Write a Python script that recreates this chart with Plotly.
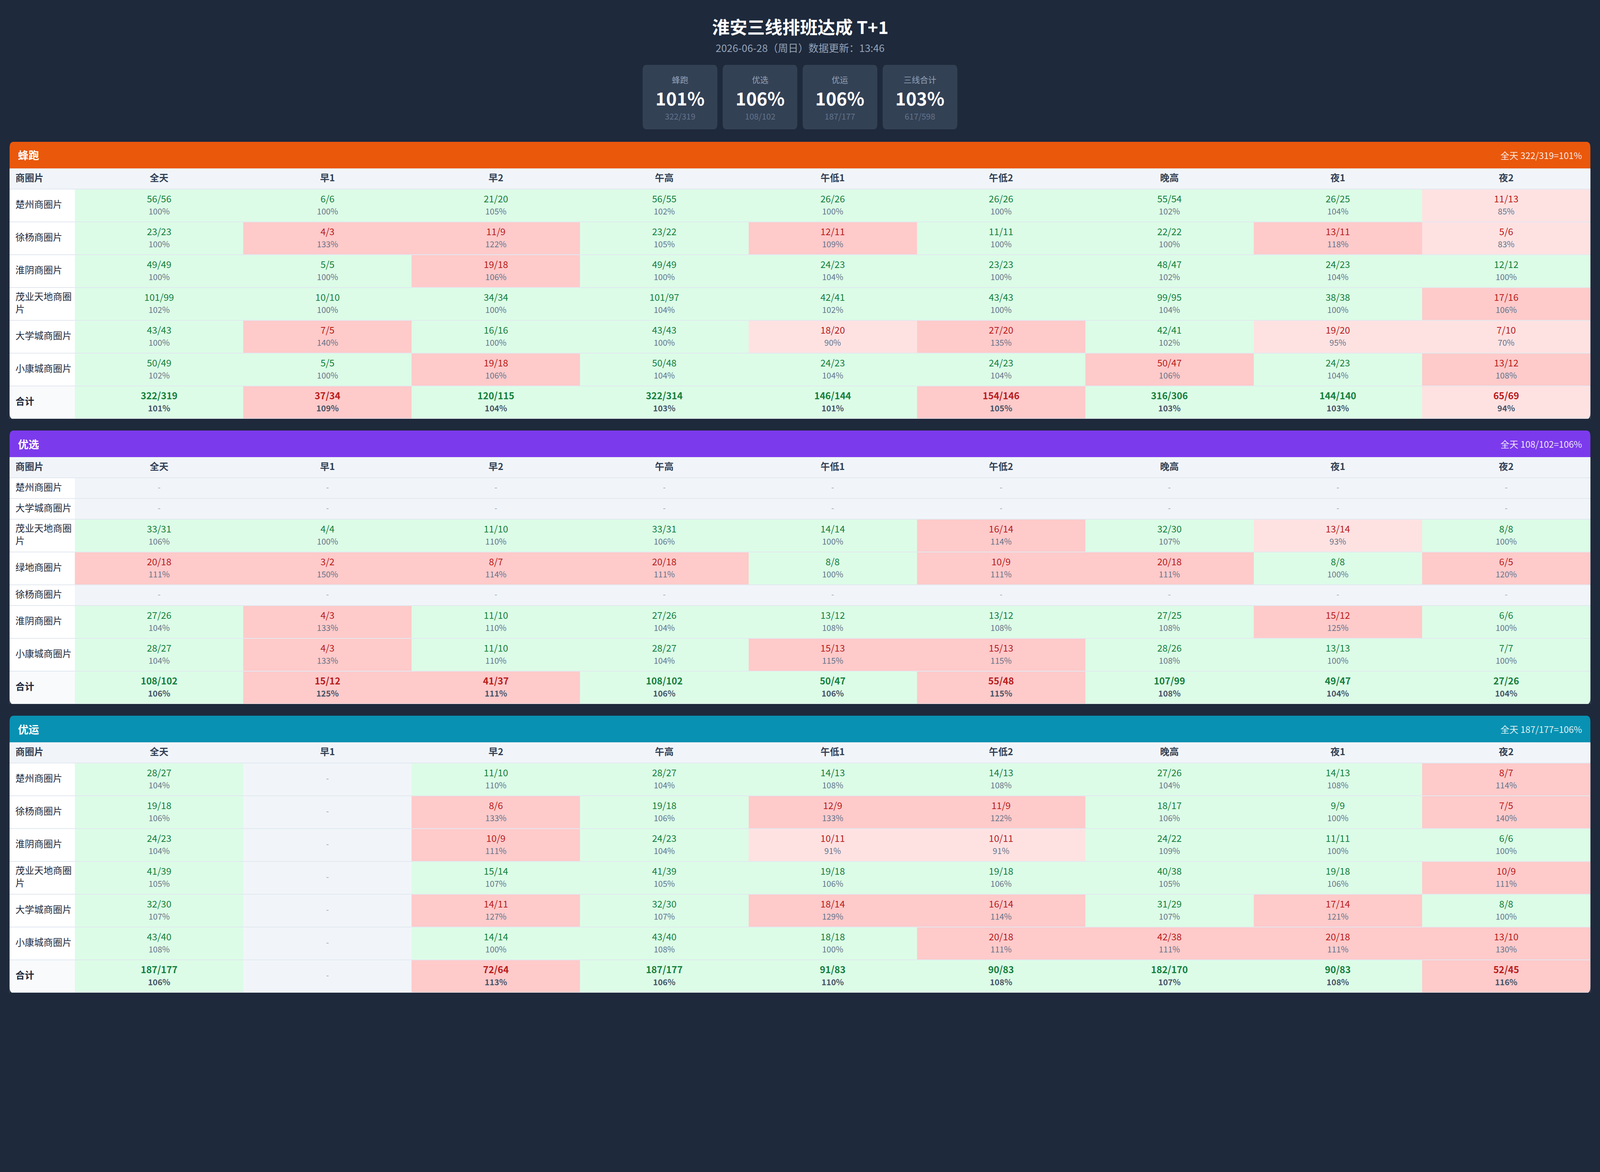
import plotly.graph_objects as go

# ---- data -------------------------------------------------------------
COLUMNS = ["全天", "早1", "早2", "午高", "午低1", "午低2", "晚高", "夜1", "夜2"]

FP_ROWS = ["楚州商圈片", "徐杨商圈片", "淮阴商圈片", "茂业天地商圈片", "大学城商圈片", "小康城商圈片"]
FP_DONE = [
    [56, 6, 21, 56, 26, 26, 55, 26, 11],
    [23, 4, 11, 23, 12, 11, 22, 13, 5],
    [49, 5, 19, 49, 24, 23, 48, 24, 12],
    [101, 10, 34, 101, 42, 43, 99, 38, 17],
    [43, 7, 16, 43, 18, 27, 42, 19, 7],
    [50, 5, 19, 50, 24, 24, 50, 24, 13],
]
FP_PLAN = [
    [56, 6, 20, 55, 26, 26, 54, 25, 13],
    [23, 3, 9, 22, 11, 11, 22, 11, 6],
    [49, 5, 18, 49, 23, 23, 47, 23, 12],
    [99, 10, 34, 97, 41, 43, 95, 38, 16],
    [43, 5, 16, 43, 20, 20, 41, 20, 10],
    [49, 5, 18, 48, 23, 23, 47, 23, 12],
]
FP_TOTAL_DONE = [322, 37, 120, 322, 146, 154, 316, 144, 65]
FP_TOTAL_PLAN = [319, 34, 115, 314, 144, 146, 306, 140, 69]

YX_ROWS = ["楚州商圈片", "大学城商圈片", "茂业天地商圈片", "绿地商圈片", "徐杨商圈片", "淮阴商圈片", "小康城商圈片"]
YX_DONE = [
    [None, None, None, None, None, None, None, None, None],
    [None, None, None, None, None, None, None, None, None],
    [33, 4, 11, 33, 14, 16, 32, 13, 8],
    [20, 3, 8, 20, 8, 10, 20, 8, 6],
    [None, None, None, None, None, None, None, None, None],
    [27, 4, 11, 27, 13, 13, 27, 15, 6],
    [28, 4, 11, 28, 15, 15, 28, 13, 7],
]
YX_PLAN = [
    [None, None, None, None, None, None, None, None, None],
    [None, None, None, None, None, None, None, None, None],
    [31, 4, 10, 31, 14, 14, 30, 14, 8],
    [18, 2, 7, 18, 8, 9, 18, 8, 5],
    [None, None, None, None, None, None, None, None, None],
    [26, 3, 10, 26, 12, 12, 25, 12, 6],
    [27, 3, 10, 27, 13, 13, 26, 13, 7],
]
YX_TOTAL_DONE = [108, 15, 41, 108, 50, 55, 107, 49, 27]
YX_TOTAL_PLAN = [102, 12, 37, 102, 47, 48, 99, 47, 26]

YY_ROWS = ["楚州商圈片", "徐杨商圈片", "淮阴商圈片", "茂业天地商圈片", "大学城商圈片", "小康城商圈片"]
YY_DONE = [
    [28, None, 11, 28, 14, 14, 27, 14, 8],
    [19, None, 8, 19, 12, 11, 18, 9, 7],
    [24, None, 10, 24, 10, 10, 24, 11, 6],
    [41, None, 15, 41, 19, 19, 40, 19, 10],
    [32, None, 14, 32, 18, 16, 31, 17, 8],
    [43, None, 14, 43, 18, 20, 42, 20, 13],
]
YY_PLAN = [
    [27, None, 10, 27, 13, 13, 26, 13, 7],
    [18, None, 6, 18, 9, 9, 17, 9, 5],
    [23, None, 9, 23, 11, 11, 22, 11, 6],
    [39, None, 14, 39, 18, 18, 38, 18, 9],
    [30, None, 11, 30, 14, 14, 29, 14, 8],
    [40, None, 14, 40, 18, 18, 38, 18, 10],
]
YY_TOTAL_DONE = [187, None, 72, 187, 91, 90, 182, 90, 52]
YY_TOTAL_PLAN = [177, None, 64, 177, 83, 83, 170, 83, 45]

TITLE = "淮安三线排班达成 T+1"
SUBTITLE = "2026-06-28（周日）数据更新：13:46"

# ---- style (design units, the figure fills the window) ------------------
W, H = 6000, 3000
FONT = "Noto Sans CJK SC"
BG = "#1e293b"
CARD_BG = "#334155"
PANEL_X0, PANEL_X1 = 36, 5964
LABEL_W = 245
LABEL_PAD = 22
BAR_H = 68
HEAD_H = 53
ROW_H = 84
EMPTY_H = 53
PANEL_TOP = 363
PANEL_GAP = 30
RADIUS = 15

# cell categories -> colours
CELL_COLORS = ["#ffffff", "#f8fafc", "#f1f5f9", "#dcfce7", "#fee2e2", "#fecaca"]
TEXT_GREEN = "#15803d"
TEXT_RED = "#b91c1c"

PANELS = [
    dict(name="蜂跑", color="#ea580c", limit=1.05, rows=FP_ROWS, done=FP_DONE, plan=FP_PLAN,
         tdone=FP_TOTAL_DONE, tplan=FP_TOTAL_PLAN),
    dict(name="优选", color="#7c3aed", limit=1.10, rows=YX_ROWS, done=YX_DONE, plan=YX_PLAN,
         tdone=YX_TOTAL_DONE, tplan=YX_TOTAL_PLAN),
    dict(name="优运", color="#0891b2", limit=1.10, rows=YY_ROWS, done=YY_DONE, plan=YY_PLAN,
         tdone=YY_TOTAL_DONE, tplan=YY_TOTAL_PLAN),
]


def px(x):
    return x / W


def py(y):
    return 1 - y / H


def pct(d, p):
    return int(d * 100 / p + 0.5)


def category(d, p, limit):
    if d is None:
        return 2
    r = d / p
    if r < 1:
        return 4
    if r > limit:
        return 5
    return 3


def wrap(s, n=6):
    return s if len(s) <= n else s[:n] + "<br>" + s[n:]


n_cat = len(CELL_COLORS)
colorscale = []
for i, c in enumerate(CELL_COLORS):
    colorscale += [[i / n_cat, c], [(i + 1) / n_cat, c]]

fig = go.Figure()
shapes = []
annotations = []

tw = PANEL_X1 - PANEL_X0
cw = (tw - LABEL_W) / len(COLUMNS)
xedges = [0, LABEL_W] + [LABEL_W + cw * (j + 1) for j in range(len(COLUMNS))]
xc = [(xedges[j + 1] + xedges[j + 2]) / 2 for j in range(len(COLUMNS))]

top = PANEL_TOP
for k, pn in enumerate(PANELS):
    sfx = "" if k == 0 else str(k + 1)
    heights = [HEAD_H]
    for r in pn["done"]:
        heights.append(ROW_H if any(v is not None for v in r) else EMPTY_H)
    heights.append(ROW_H)
    yedges = [0]
    for h in heights:
        yedges.append(yedges[-1] + h)
    th = yedges[-1]
    centers = [(yedges[i] + yedges[i + 1]) / 2 for i in range(len(heights))]

    all_done = pn["done"] + [pn["tdone"]]
    all_plan = pn["plan"] + [pn["tplan"]]

    z = [[2] * (len(COLUMNS) + 1)]
    for i in range(len(all_done)):
        first = 1 if i == len(all_done) - 1 else 0
        z.append([first] + [category(d, p, pn["limit"]) for d, p in zip(all_done[i], all_plan[i])])

    fig.add_trace(go.Heatmap(
        x=xedges, y=yedges, z=z, colorscale=colorscale, zmin=-0.5, zmax=n_cat - 0.5,
        showscale=False, ygap=2, hoverinfo="skip", xaxis="x" + sfx, yaxis="y" + sfx,
    ))

    # header row
    fig.add_trace(go.Scatter(
        x=[LABEL_PAD] + xc, y=[centers[0]] * (len(COLUMNS) + 1), mode="text",
        text=["<b>商圈片</b>"] + [f"<b>{c}</b>" for c in COLUMNS],
        textposition=["middle right"] + ["middle center"] * len(COLUMNS),
        textfont=dict(family=FONT, size=24, color="#334155"),
        hoverinfo="skip", cliponaxis=False, xaxis="x" + sfx, yaxis="y" + sfx,
    ))
    # row labels
    fig.add_trace(go.Scatter(
        x=[LABEL_PAD] * (len(pn["rows"]) + 1), y=centers[1:], mode="text",
        text=[wrap(r) for r in pn["rows"]] + ["<b>合计</b>"],
        textposition="middle right",
        textfont=dict(family=FONT, size=24, color="#1e293b"),
        hoverinfo="skip", cliponaxis=False, xaxis="x" + sfx, yaxis="y" + sfx,
    ))

    vx, vy, vt, vc = [], [], [], []
    qx, qy, qt, qc = [], [], [], []
    dx, dy = [], []
    for i in range(len(all_done)):
        total = i == len(all_done) - 1
        yc = centers[i + 1]
        for j in range(len(COLUMNS)):
            d, p = all_done[i][j], all_plan[i][j]
            if d is None:
                dx.append(xc[j])
                dy.append(yc)
                continue
            cat = category(d, p, pn["limit"])
            txt = f"{d}/{p}"
            ptxt = f"{pct(d, p)}%"
            if total:
                txt, ptxt = f"<b>{txt}</b>", f"<b>{ptxt}</b>"
            vx.append(xc[j])
            vy.append(yc - 14)
            vt.append(txt)
            vc.append(TEXT_GREEN if cat == 3 else TEXT_RED)
            qx.append(xc[j])
            qy.append(yc + 18)
            qt.append(ptxt)
            qc.append("#475569" if total else "#64748b")

    fig.add_trace(go.Scatter(
        x=vx, y=vy, mode="text", text=vt, textposition="middle center",
        textfont=dict(family=FONT, size=24, color=vc),
        hoverinfo="skip", cliponaxis=False, xaxis="x" + sfx, yaxis="y" + sfx,
    ))
    fig.add_trace(go.Scatter(
        x=qx, y=qy, mode="text", text=qt, textposition="middle center",
        textfont=dict(family=FONT, size=21, color=qc),
        hoverinfo="skip", cliponaxis=False, xaxis="x" + sfx, yaxis="y" + sfx,
    ))
    if dx:
        fig.add_trace(go.Scatter(
            x=dx, y=dy, mode="text", text=["-"] * len(dx), textposition="middle center",
            textfont=dict(family=FONT, size=21, color="#94a3b8"),
            hoverinfo="skip", cliponaxis=False, xaxis="x" + sfx, yaxis="y" + sfx,
        ))

    t_top = top + BAR_H
    t_bot = t_top + th
    fig.layout["xaxis" + sfx] = dict(domain=[px(PANEL_X0), px(PANEL_X1)], range=[0, tw],
                                     visible=False, fixedrange=True, anchor="y" + sfx)
    fig.layout["yaxis" + sfx] = dict(domain=[py(t_bot), py(t_top)], range=[th, 0],
                                     visible=False, fixedrange=True, anchor="x" + sfx)

    # coloured header bar with rounded top corners
    x0, x1, r = PANEL_X0, PANEL_X1, RADIUS
    shapes.append(dict(
        type="path", xref="paper", yref="paper", layer="below",
        path=(f"M {px(x0)},{py(t_top)} L {px(x0)},{py(top + r)} Q {px(x0)},{py(top)} {px(x0 + r)},{py(top)} "
              f"L {px(x1 - r)},{py(top)} Q {px(x1)},{py(top)} {px(x1)},{py(top + r)} L {px(x1)},{py(t_top)} Z"),
        fillcolor=pn["color"], line=dict(width=0),
    ))
    # rounded bottom corners
    for xa, xb in ((x0, x0 + r), (x1, x1 - r)):
        shapes.append(dict(
            type="path", xref="paper", yref="paper", layer="above",
            path=(f"M {px(xa)},{py(t_bot - r)} Q {px(xa)},{py(t_bot + 1)} {px(xb)},{py(t_bot + 1)} "
                  f"L {px(xa)},{py(t_bot + 1)} Z"),
            fillcolor=BG, line=dict(width=0),
        ))

    annotations.append(dict(
        x=px(x0 + 29), y=py(top + BAR_H / 2), xref="paper", yref="paper",
        xanchor="left", yanchor="middle", showarrow=False,
        text=f"<b>{pn['name']}</b>", font=dict(family=FONT, size=27, color="#ffffff"),
    ))
    annotations.append(dict(
        x=px(x1 - 28), y=py(top + BAR_H / 2), xref="paper", yref="paper",
        xanchor="right", yanchor="middle", showarrow=False,
        text=f"全天 {pn['tdone'][0]}/{pn['tplan'][0]}={pct(pn['tdone'][0], pn['tplan'][0])}%",
        font=dict(family=FONT, size=23, color="rgba(255,255,255,0.9)"),
    ))

    top = t_bot + PANEL_GAP

# ---- title & KPI cards -------------------------------------------------
annotations.append(dict(
    x=0.5, y=py(68), xref="paper", yref="paper", xanchor="center", yanchor="middle",
    showarrow=False, text=f"<b>{TITLE}</b>", font=dict(family=FONT, size=45, color="#ffffff"),
))
annotations.append(dict(
    x=0.5, y=py(122), xref="paper", yref="paper", xanchor="center", yanchor="middle",
    showarrow=False, text=SUBTITLE, font=dict(family=FONT, size=26, color="#94a3b8"),
))

card_names = [pn["name"] for pn in PANELS] + ["三线合计"]
card_done = [pn["tdone"][0] for pn in PANELS]
card_plan = [pn["tplan"][0] for pn in PANELS]
card_done.append(sum(card_done))
card_plan.append(sum(card_plan))

CARD_W, CARD_GAP, CARD_TOP, CARD_BOT, CR = 280, 20, 166, 331, 14
cx0 = W / 2 - (len(card_names) * CARD_W + (len(card_names) - 1) * CARD_GAP) / 2
for i, nm in enumerate(card_names):
    a = cx0 + i * (CARD_W + CARD_GAP)
    b = a + CARD_W
    shapes.append(dict(
        type="path", xref="paper", yref="paper", layer="below",
        path=(f"M {px(a + CR)},{py(CARD_TOP)} L {px(b - CR)},{py(CARD_TOP)} "
              f"Q {px(b)},{py(CARD_TOP)} {px(b)},{py(CARD_TOP + CR)} L {px(b)},{py(CARD_BOT - CR)} "
              f"Q {px(b)},{py(CARD_BOT)} {px(b - CR)},{py(CARD_BOT)} L {px(a + CR)},{py(CARD_BOT)} "
              f"Q {px(a)},{py(CARD_BOT)} {px(a)},{py(CARD_BOT - CR)} L {px(a)},{py(CARD_TOP + CR)} "
              f"Q {px(a)},{py(CARD_TOP)} {px(a + CR)},{py(CARD_TOP)} Z"),
        fillcolor=CARD_BG, line=dict(width=0),
    ))
    mid = px((a + b) / 2)
    annotations.append(dict(x=mid, y=py(203), xref="paper", yref="paper", xanchor="center",
                            yanchor="middle", showarrow=False, text=nm,
                            font=dict(family=FONT, size=21, color="#94a3b8")))
    annotations.append(dict(x=mid, y=py(250), xref="paper", yref="paper", xanchor="center",
                            yanchor="middle", showarrow=False,
                            text=f"<b>{pct(card_done[i], card_plan[i])}%</b>",
                            font=dict(family=FONT, size=46, color="#ffffff")))
    annotations.append(dict(x=mid, y=py(297), xref="paper", yref="paper", xanchor="center",
                            yanchor="middle", showarrow=False,
                            text=f"{card_done[i]}/{card_plan[i]}",
                            font=dict(family=FONT, size=21, color="#64748b")))

fig.update_layout(
    autosize=True, margin=dict(l=0, r=0, t=0, b=0),
    paper_bgcolor=BG, plot_bgcolor="#e2e8f0",
    showlegend=False, shapes=shapes, annotations=annotations,
    font=dict(family=FONT),
)

PAGE_JS = (
    "document.documentElement.style.margin='0';"
    "document.body.style.margin='0';document.body.style.background='#1e293b';"
)

fig.write_html("out.html", default_width="100vw", default_height="100vh",
               config={"responsive": True, "displayModeBar": False}, post_script=PAGE_JS)
